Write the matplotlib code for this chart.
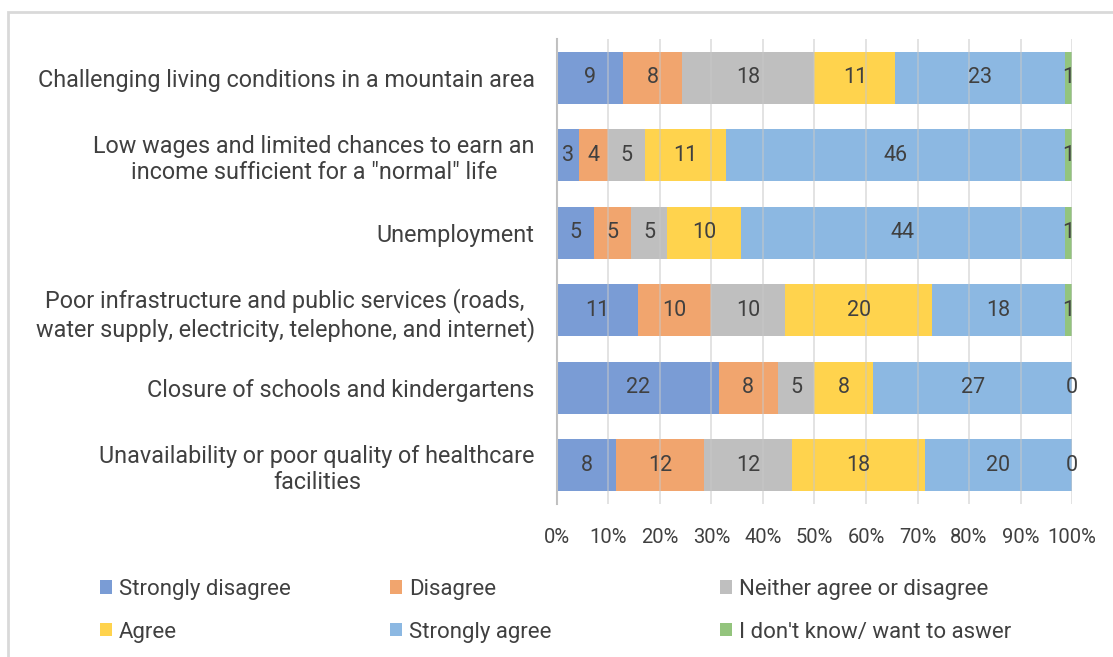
import numpy as np
import matplotlib.pyplot as plt
from matplotlib.patches import Rectangle

plt.rcParams["font.family"] = ["Roboto", "DejaVu Sans"]

categories = [
    "Challenging living conditions in a mountain area",
    "Low wages and limited chances to earn an\nincome sufficient for a \"normal\" life",
    "Unemployment",
    "Poor infrastructure and public services (roads,\nwater supply, electricity, telephone, and internet)",
    "Closure of schools and kindergartens",
    "Unavailability or poor quality of healthcare\nfacilities",
]
series_names = [
    "Strongly disagree",
    "Disagree",
    "Neither agree or disagree",
    "Agree",
    "Strongly agree",
    "I don't know/ want to aswer",
]
strongly_disagree = [9, 3, 5, 11, 22, 8]
disagree = [8, 4, 5, 10, 8, 12]
neither = [18, 5, 5, 10, 5, 12]
agree = [11, 11, 10, 20, 8, 18]
strongly_agree = [23, 46, 44, 18, 27, 20]
dont_know = [1, 1, 1, 1, 0, 0]
tick_labels = ["0%", "10%", "20%", "30%", "40%", "50%", "60%", "70%", "80%", "90%", "100%"]

colors = ["#7A9CD5", "#F1A56E", "#BFBFBF", "#FFD34D", "#8CB8E2", "#93C47D"]
text_color = "#404040"

counts = np.array([strongly_disagree, disagree, neither, agree, strongly_agree, dont_know], dtype=float)
totals = counts.sum(axis=0)
shares = counts / totals

fig = plt.figure(figsize=(11.13, 6.57), dpi=100)
ax = fig.add_axes([0.5004, 0.2329, 0.4628, 0.7077])

y = np.arange(len(categories))
left = np.zeros(len(categories))
handles = []
for i, name in enumerate(series_names):
    bars = ax.barh(y, shares[i], left=left, height=0.67, color=colors[i], label=name, zorder=1)
    handles.append(bars)
    for j in range(len(categories)):
        ax.text(left[j] + shares[i][j] / 2, y[j], "%d" % counts[i][j],
                ha="center", va="center", fontsize=15.5, color=text_color, zorder=3)
    left = left + shares[i]

ax.set_ylim(5.5, -0.5)
ax.set_xlim(0, 1)
ax.set_yticks(y)
ax.set_yticklabels(categories, fontsize=16.8, color=text_color, multialignment="center")
ax.set_xticks(np.linspace(0, 1, 11))
ax.set_xticklabels(tick_labels, fontsize=14.5, color=text_color)
ax.tick_params(axis="y", length=0, pad=16)
ax.tick_params(axis="x", length=0, pad=17)
ax.grid(axis="x", color="#C8C8C8", linewidth=1.2, alpha=0.6, zorder=2)
ax.set_axisbelow(False)
for s in ["top", "right", "bottom"]:
    ax.spines[s].set_visible(False)
ax.spines["left"].set_color("#BFBFBF")
ax.spines["left"].set_linewidth(1.5)

# legend: three fixed columns, two rows (like the Excel layout)
col_x = [100 / 1113, 390 / 1113, 720 / 1113]
for c in range(3):
    idx = [c, c + 3]
    leg = fig.legend([handles[k] for k in idx], [series_names[k] for k in idx],
                     loc="upper left", bbox_to_anchor=(col_x[c], 0.119),
                     frameon=False, fontsize=16, handlelength=0.55, handleheight=0.55,
                     handletextpad=0.3, labelspacing=0.98, borderpad=0, borderaxespad=0)
    for t in leg.get_texts():
        t.set_color(text_color)

fig.patches.append(Rectangle((8 / 1113, -0.1), 1.2, 1 - 12 / 657 + 0.1,
                             transform=fig.transFigure, fill=False,
                             edgecolor="#D9D9D9", linewidth=2))

fig.savefig("out.png", dpi=100)
